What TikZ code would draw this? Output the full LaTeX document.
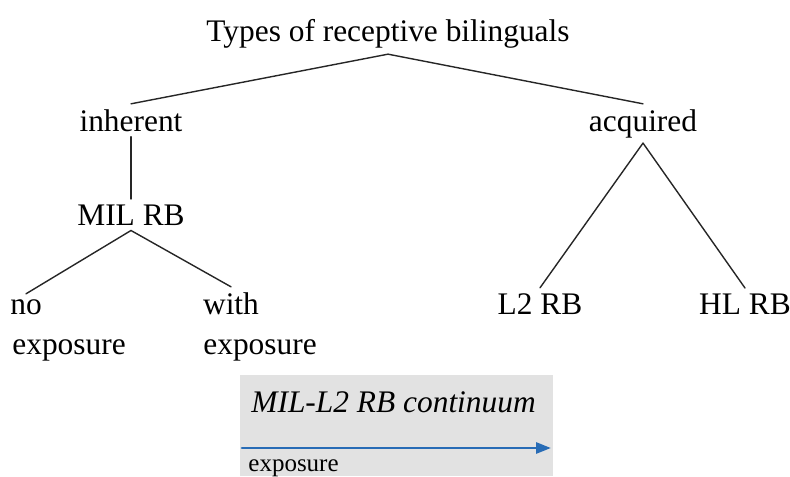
\documentclass[tikz,border=0pt]{standalone}
\usepackage{fontspec}
\setmainfont{Liberation Serif}
\usetikzlibrary{positioning,arrows.meta}
\definecolor{boxgray}{RGB}{226,226,226}
\definecolor{arrowblue}{RGB}{40,108,182}

\begin{document}
\begin{tikzpicture}[x=0.5pt,y=-0.5pt,line cap=round,
  lbl/.style={font=\fontsize{15.7}{18}\selectfont,inner sep=2.5pt,anchor=base},
  small/.style={font=\fontsize{12.5}{14}\selectfont,inner sep=0pt,anchor=base west},
  branch/.style={line width=0.7pt,draw=black!85}]
\useasboundingbox (0,0) rectangle (790,476);

% tree labels
\node[lbl] (root) at (388,42) {Types of receptive bilinguals};
\node[lbl] (inh) at (131,131) {inherent};
\node[lbl] (acq) at (643,131) {acquired};
\node[lbl] (mil) at (131,225) {MIL RB};
\node[lbl] (no) at (26,314) {no};
\node[lbl,anchor=base west] (noexp) at (7,354) {exposure};
\node[lbl] (with) at (231,314) {with};
\node[lbl,anchor=base west] (withexp) at (198,354) {exposure};
\node[lbl] (ltwo) at (540,314) {L2 RB};
\node[lbl] (hl) at (745,314) {HL RB};

% branches
\draw[branch] (root.south) -- (inh.north);
\draw[branch] (root.south) -- (acq.north);
\draw[branch] (inh.south) -- (mil.north);
\draw[branch] (mil.south) -- (no.north);
\draw[branch] (mil.south) -- (with.north);
\draw[branch] (acq.south) -- (ltwo.north);
\draw[branch] (acq.south) -- (hl.north);

% continuum box
\fill[boxgray] (240,375) rectangle (553,476);
\node[lbl,anchor=base west,font=\fontsize{15.7}{18}\selectfont\itshape] (cont) at (246,412) {MIL-L2 RB continuum};
\coordinate (ax) at (242,448);
\coordinate (bx) at (551,448);
\draw[arrowblue,line width=1.4pt,-{Triangle[length=7.5pt,width=5.5pt]}] (ax) -- (bx);
\node[small] (exp) at (248,471) {exposure};
\end{tikzpicture}
\end{document}
